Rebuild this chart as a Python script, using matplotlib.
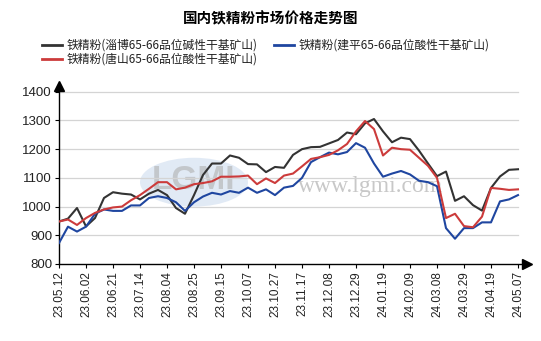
import numpy as np
import matplotlib
matplotlib.use("Agg")
import matplotlib.pyplot as plt
from matplotlib.lines import Line2D
from matplotlib.patches import Ellipse

plt.rcParams['font.family'] = ['Noto Sans CJK SC', 'DejaVu Sans']

title = '国内铁精粉市场价格走势图'
names = ['铁精粉(淄博65-66品位碱性干基矿山)',
         '铁精粉(唐山65-66品位酸性干基矿山)',
         '铁精粉(建平65-66品位酸性干基矿山)']
colors = ['#333333', '#cc3b3b', '#1f46a0']

tick_labels = ['23.05.12', '23.06.02', '23.06.21', '23.07.14', '23.08.04', '23.08.25',
               '23.09.15', '23.10.07', '23.10.27', '23.11.17', '23.12.08', '23.12.29',
               '24.01.19', '24.02.09', '24.03.08', '24.03.29', '24.04.19', '24.05.07']

# weekly samples (every 5 trading days)
zibo = [948, 958, 995, 931, 960, 1030, 1050, 1045, 1042, 1025, 1045, 1058, 1040,
        995, 975, 1040, 1110, 1150, 1150, 1178, 1170, 1148, 1147, 1120, 1138, 1135,
        1180, 1200, 1207, 1208, 1220, 1232, 1258, 1252, 1290, 1305, 1262, 1224, 1240,
        1235, 1195, 1150, 1106, 1122, 1020, 1036, 1005, 986, 1065, 1105, 1128, 1130]
tangshan = [948, 955, 936, 960, 978, 990, 997, 1000, 1022, 1040, 1062, 1085, 1085,
            1060, 1066, 1078, 1082, 1088, 1104, 1104, 1105, 1108, 1078, 1098, 1082, 1108,
            1115, 1140, 1166, 1172, 1180, 1196, 1218, 1262, 1298, 1270, 1178, 1205, 1200,
            1198, 1170, 1142, 1100, 960, 975, 932, 928, 965, 1065, 1062, 1058, 1060]
jianping = [873, 930, 913, 930, 975, 990, 985, 985, 1004, 1004, 1030, 1036, 1030,
            1015, 985, 1015, 1035, 1048, 1042, 1054, 1048, 1066, 1048, 1060, 1040, 1066,
            1072, 1100, 1155, 1172, 1188, 1182, 1190, 1221, 1205, 1150, 1104, 1115, 1124,
            1112, 1090, 1085, 1071, 925, 888, 925, 925, 945, 945, 1018, 1025, 1040]

yticks = [800, 900, 1000, 1100, 1200, 1300, 1400]

W, H = 541, 341
fig = plt.figure(figsize=(W / 100, H / 100), dpi=100)
ax = fig.add_axes([59 / W, 1 - 264 / H, (527 - 59) / W, (264 - 86) / H])

x = np.arange(len(zibo)) * 5
ax.set_xlim(0, 255 * (527 - 59) / (518 - 59))
ax.set_ylim(800, 1420)

# watermark
ax.add_patch(Ellipse((75, 1085), 60, 170, color='#c9d9ee', alpha=0.55, lw=0, zorder=0))
ax.text(75, 1090, 'LGMI', ha='center', va='center', fontsize=24, color='#b0b0b0',
        alpha=0.6, family='Liberation Sans', fontweight='bold', zorder=0)
ax.text(173, 1070, 'www.lgmi.com', ha='center', va='center', fontsize=17,
        color='#c8c8c8', family='Liberation Serif', zorder=0)

for v in yticks[1:]:
    ax.plot([0, 255], [v, v], color='#d4d4d4', lw=0.9, zorder=1)

for ys, c in zip([zibo, jianping, tangshan], [colors[0], colors[2], colors[1]]):
    ax.plot(x, ys, color=c, lw=1.5, solid_joinstyle='round', zorder=3)

for s in ['top', 'right']:
    ax.spines[s].set_visible(False)
for s in ['left', 'bottom']:
    ax.spines[s].set_color('black')
    ax.spines[s].set_linewidth(1.0)

ax.plot([0], [1], marker='^', color='black', ms=7, transform=ax.transAxes, clip_on=False)
ax.plot([1], [0], marker='>', color='black', ms=7, transform=ax.transAxes, clip_on=False)

ax.set_yticks(yticks)
ax.set_yticklabels([str(v) for v in yticks], family='Liberation Sans', fontsize=9.5, color='#222222')
ax.set_xticks(np.arange(len(tick_labels)) * 15)
ax.set_xticklabels(tick_labels, rotation=90, family='Liberation Sans', fontsize=8.5, color='#222222')
ax.tick_params(axis='both', length=3, width=0.8, pad=2)

fig.text(0.5, 1 - 18 / H, title, ha='center', va='center', fontsize=10.5, fontweight='bold')

legend_pos = [(42, 45), (42, 59), (274, 45)]
for (lx, ly), name, c in zip(legend_pos, names, colors):
    fig.add_artist(Line2D([lx / W, (lx + 20) / W], [1 - ly / H, 1 - ly / H], color=c, lw=2))
    fig.text((lx + 25) / W, 1 - ly / H, name, ha='left', va='center', fontsize=8.5, color='#222222')

fig.savefig('out.png', dpi=100)
